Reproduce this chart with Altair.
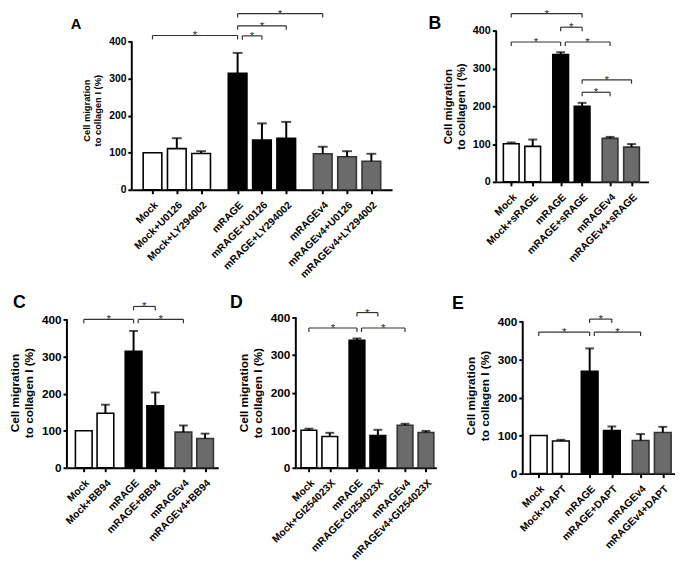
import json
import altair as alt
import pandas as pd

FONT = "Liberation Sans"

# ---------------- data ----------------
A_labels = ["Mock", "Mock+U0126", "Mock+LY294002", "mRAGE", "mRAGE+U0126",
            "mRAGE+LY294002", "mRAGEv4", "mRAGEv4+U0126", "mRAGEv4+LY294002"]
A_means = [100, 111, 98, 314, 134, 139, 97, 89, 77]
A_errs = [0, 28, 6, 55, 45, 44, 19, 15, 20]
A_brackets = [("Mock", "mRAGE", 416), ("mRAGE", "mRAGE+U0126", 415),
              ("mRAGE", "mRAGE+LY294002", 442), ("mRAGE", "mRAGEv4", 475)]

B_labels = ["Mock", "Mock+sRAGE", "mRAGE", "mRAGE+sRAGE", "mRAGEv4", "mRAGEv4+sRAGE"]
B_means = [101, 94, 337, 200, 115, 92]
B_errs = [3, 18, 6, 9, 4, 8]
B_brackets = [("Mock", "mRAGE+sRAGE", 445), ("mRAGE", "mRAGE+sRAGE", 409),
              ("Mock", "mRAGE", 370), ("mRAGE", "mRAGEv4", 370),
              ("mRAGE+sRAGE", "mRAGEv4+sRAGE", 270), ("mRAGE+sRAGE", "mRAGEv4", 237)]

C_labels = ["Mock", "Mock+BB94", "mRAGE", "mRAGE+BB94", "mRAGEv4", "mRAGEv4+BB94"]
C_means = [100, 147, 314, 167, 96, 79]
C_errs = [0, 23, 55, 36, 18, 13]
C_brackets = [("Mock", "mRAGE", 400), ("mRAGE", "mRAGE+BB94", 435), ("mRAGE", "mRAGEv4", 400)]

D_labels = ["Mock", "Mock+GI254023X", "mRAGE", "mRAGE+GI254023X", "mRAGEv4", "mRAGEv4+GI254023X"]
D_means = [100, 83, 339, 86, 113, 94]
D_errs = [4, 10, 5, 15, 4, 4]
D_brackets = [("Mock", "mRAGE", 372), ("mRAGE", "mRAGE+GI254023X", 413), ("mRAGE", "mRAGEv4", 372)]

E_labels = ["Mock", "Mock+DAPT", "mRAGE", "mRAGE+DAPT", "mRAGEv4", "mRAGEv4+DAPT"]
E_means = [100, 86, 269, 113, 87, 108]
E_errs = [0, 3, 60, 11, 17, 15]
E_brackets = [("Mock", "mRAGE", 372), ("mRAGE", "mRAGE+DAPT", 406), ("mRAGE", "mRAGEv4", 372)]

Y_TICKS = [0, 100, 200, 300, 400]
Y_TITLE = ["Cell migration", "to collagen I (%)"]
GROUPS = ["Mock", "mRAGE", "mRAGEv4"]


def group_of(label):
    if label.startswith("mRAGEv4"):
        return "mRAGEv4"
    if label.startswith("mRAGE"):
        return "mRAGE"
    return "Mock"


def panel(letter, labels, means, errs, brackets, gap, pad_l, pad_r, width, h400,
          extra, bar_w, cap_w, gray_stroke, tick_fs, title_fs, label_fs,
          letter_fs, letter_x, letter_y):
    pos = [i * 10 + GROUPS.index(group_of(l)) * gap for i, l in enumerate(labels)]
    lookup = dict(zip(labels, pos))
    ymax = 400 + extra * 400.0 / h400
    height = h400 + extra
    drop = 4 * 400.0 / h400
    nudge = 5 * (pos[-1] - pos[0] + pad_l + pad_r) / width

    bars = pd.DataFrame({"label": labels, "pos": pos, "mean": means, "err": errs,
                         "grp": [group_of(l) for l in labels]})
    bars["top"] = bars["mean"] + bars["err"]

    rows = []
    for a, b, lev in brackets:
        x1 = lookup[a]
        if any(bb == a and abs(lv - lev) < 15 for (aa, bb, lv) in brackets):
            x1 += nudge
        x2 = lookup[b]
        rows.append({"pos": x1, "x2": x2, "mean": lev, "low": lev - drop,
                     "mid": (x1 + x2) / 2})
    br = pd.DataFrame(rows)

    xscale = alt.Scale(domain=[pos[0] - pad_l, pos[-1] + pad_r], nice=False, zero=False)
    yscale = alt.Scale(domain=[0, ymax], nice=False)

    label_expr = f"{json.dumps(labels)}[indexof({json.dumps(pos)}, datum.value)]"
    xaxis = alt.Axis(values=pos, labelExpr=label_expr, labelAngle=315,
                     labelAlign="right", labelBaseline="top", labelFont=FONT,
                     labelFontWeight="bold", labelFontSize=label_fs, labelColor="black",
                     labelOverlap=False, labelPadding=6, labelFlush=False, labelBound=False,
                     tickSize=4, tickWidth=2, tickColor="black", domainWidth=2,
                     domainColor="black", grid=False, title=None)
    yaxis = alt.Axis(values=Y_TICKS, domain=False, grid=False, tickSize=4, tickWidth=2,
                     tickColor="black", labelFont=FONT, labelFontWeight="bold",
                     labelFontSize=tick_fs, labelColor="black", labelPadding=2,
                     labelOverlap=False, labelFlush=False, labelBound=False,
                     title=Y_TITLE, titleFont=FONT, titleFontWeight="bold",
                     titleFontSize=title_fs, titleColor="black", titlePadding=6)

    def X(f):
        return alt.X(f, scale=xscale, axis=xaxis)

    def Y(f):
        return alt.Y(f, scale=yscale, axis=yaxis)

    base = alt.Chart(bars)
    bar_layer = base.mark_bar(size=bar_w, strokeWidth=1.6).encode(
        x=X("pos:Q"), y=Y("mean:Q"),
        fill=alt.Fill("grp:N", scale=alt.Scale(domain=GROUPS,
                                                range=["white", "black", "#6b6b6b"]),
                      legend=None),
        stroke=alt.Stroke("grp:N", scale=alt.Scale(domain=GROUPS,
                                                    range=["black", "black", gray_stroke]),
                          legend=None),
    )
    err_base = base.transform_filter("datum.err > 0")
    err_line = err_base.mark_rule(color="black", strokeWidth=2).encode(
        x=X("pos:Q"), y=Y("mean:Q"), y2="top:Q")
    err_cap = err_base.mark_tick(color="black", thickness=2, size=cap_w,
                                 orient="horizontal").encode(x=X("pos:Q"), y=Y("top:Q"))

    yline = alt.Chart(pd.DataFrame({"mean": [Y_TICKS[0]], "top": [Y_TICKS[-1]]})).mark_rule(
        color="black", strokeWidth=2).encode(x=alt.value(0), y=Y("mean:Q"), y2="top:Q")

    bb = alt.Chart(br)
    hline = bb.mark_rule(color="#333", strokeWidth=1.2).encode(
        x=X("pos:Q"), x2="x2:Q", y=Y("mean:Q"))
    lcap = bb.mark_rule(color="#333", strokeWidth=1.2).encode(
        x=X("pos:Q"), y=Y("mean:Q"), y2="low:Q")
    rcap = bb.mark_rule(color="#333", strokeWidth=1.2).encode(
        x=X("x2:Q"), y=Y("mean:Q"), y2="low:Q")
    star = bb.mark_text(text="*", font=FONT, fontSize=12, color="#333",
                        baseline="middle", align="center").encode(
        x=X("mid:Q"), y=Y("mean:Q"))

    letter_mark = alt.Chart(pd.DataFrame({"t": [letter]})).mark_text(
        font=FONT, fontSize=letter_fs, fontWeight="bold", color="black",
        align="left", baseline="middle").encode(
        text="t:N", x=alt.value(letter_x), y=alt.value(letter_y))

    return alt.layer(bar_layer, err_line, err_cap, yline, hline, lcap, rcap, star,
                     letter_mark).properties(width=width, height=height)


pA = panel("A", A_labels, A_means, A_errs, A_brackets, 5, 6.5, 6.5, 265, 151, 11,
           19, 10, "#333", 10.5, 9.5, 10.5, 15, -62, -7)
pB = panel("B", B_labels, B_means, B_errs, B_brackets, 3, 4.7, 5.6, 155, 154, 0,
           16, 9, "#6b6b6b", 11, 11.5, 10.5, 18, -69, -7)
pC = panel("C", C_labels, C_means, C_errs, C_brackets, 3, 5.5, 3.8, 154, 151, 2,
           17, 9, "#6b6b6b", 12, 12, 10.5, 18, -55, -15)
pD = panel("D", D_labels, D_means, D_errs, D_brackets, 3, 3.9, 2.6, 143, 153, 0,
           16, 9, "#6b6b6b", 12, 12, 10.5, 18, -67, -15)
pE = panel("E", E_labels, E_means, E_errs, E_brackets, 3, 5.0, 3.3, 155, 155, 4,
           17, 9, "#6b6b6b", 12, 12, 10.5, 18, -72, -14)

spacer = alt.Chart(pd.DataFrame({"v": [0]})).mark_point(opacity=0).encode(
    x=alt.X("v:Q", axis=None), y=alt.Y("v:Q", axis=None)).properties(width=1, height=1)

top = alt.hconcat(spacer, alt.hconcat(pA, pB, spacing=37), spacing=0)
bottom = alt.hconcat(pC, alt.hconcat(pD, pE, spacing=16), spacing=12)
chart = (alt.vconcat(top, bottom, spacing=14)
         .properties(padding={"left": 0, "top": -6, "right": 0, "bottom": 0})
         .configure(font=FONT)
         .configure_view(stroke="transparent", strokeWidth=0))

chart.save("out.html", embed_options={"renderer": "svg", "actions": False})
